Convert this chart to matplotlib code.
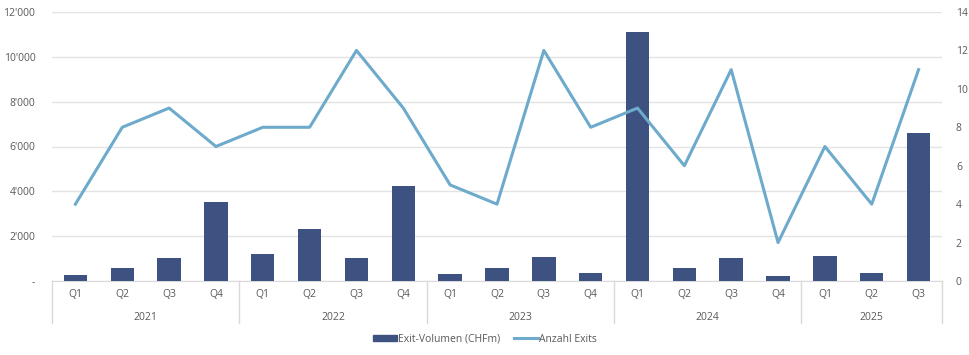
import matplotlib
matplotlib.use("Agg")
import matplotlib.pyplot as plt
from matplotlib.ticker import FuncFormatter, FixedLocator
from matplotlib.lines import Line2D
from matplotlib.patches import Patch

plt.rcParams['font.family'] = ['Open Sans', 'DejaVu Sans']

years = ["2021", "2022", "2023", "2024", "2025"]
quarters = ["Q1", "Q2", "Q3", "Q4", "Q1", "Q2", "Q3", "Q4", "Q1", "Q2", "Q3", "Q4",
            "Q1", "Q2", "Q3", "Q4", "Q1", "Q2", "Q3"]
quarters_per_year = [4, 4, 4, 4, 3]
exit_volume = [280, 580, 1030, 3520, 1200, 2330, 1030, 4240, 300, 580, 1070, 370,
               11100, 580, 1030, 220, 1120, 350, 6600]
exit_count = [4, 8, 9, 7, 8, 8, 12, 9, 5, 4, 12, 8, 9, 6, 11, 2, 7, 4, 11]

bar_color = "#3D5280"
line_color = "#6DAACB"
text_color = "#595959"
grid_color = "#E3E3E3"

W, H = 970, 355
fig = plt.figure(figsize=(W / 100, H / 100), dpi=100)
left, right, top, bottom = 52, 942, 12, 281
ax = fig.add_axes([left / W, 1 - bottom / H, (right - left) / W, (bottom - top) / H])
ax2 = ax.twinx()

n = len(exit_volume)
x = list(range(n))
ax.bar(x, exit_volume, width=0.5, color=bar_color, zorder=3)
ax.set_xlim(-0.5, n - 0.5)
ax.set_ylim(0, 12000)
ax.yaxis.set_major_locator(FixedLocator(range(0, 12001, 2000)))

def fmt(v, pos):
    if v == 0:
        return "-"
    return f"{int(v):,}".replace(",", "'")

ax.yaxis.set_major_formatter(FuncFormatter(fmt))
ax.grid(axis='y', color=grid_color, linewidth=1, zorder=0)
ax.set_axisbelow(True)

ax2.plot(x, exit_count, color=line_color, linewidth=2.2, zorder=4)
ax2.set_ylim(0, 14)
ax2.yaxis.set_major_locator(FixedLocator(range(0, 15, 2)))

for a in (ax, ax2):
    for s in a.spines.values():
        s.set_visible(False)
    a.tick_params(axis='both', length=0, labelsize=7.5, labelcolor=text_color)
ax.spines['bottom'].set_visible(True)
ax.spines['bottom'].set_color("#D9D9D9")
ax.tick_params(axis='y', pad=12)
ax2.tick_params(axis='y', pad=10)

ax.set_xticks(x)
ax.set_xticklabels(quarters)
ax.tick_params(axis='x', pad=6)

# year labels and separators
trans = ax.get_xaxis_transform()
sep_len = (323 - 281) / (bottom - top)
pos = -0.5
bounds = [pos]
for yr, k in zip(years, quarters_per_year):
    center = pos + k / 2
    ax.text(center, -(317 - 281) / (bottom - top), yr, transform=trans,
            ha='center', va='center', fontsize=7.5, color=text_color)
    pos += k
    bounds.append(pos)
for b in bounds:
    ax.plot([b, b], [0, -sep_len], transform=trans, color="#D9D9D9",
            linewidth=1, clip_on=False)

handles = [Patch(color=bar_color, label="Exit-Volumen (CHFm)"),
           Line2D([0], [0], color=line_color, linewidth=2.2, label="Anzahl Exits")]
fig.legend(handles=handles, loc='center', bbox_to_anchor=(0.5, 1 - 339 / H), ncol=2,
           frameon=False, fontsize=7.5, labelcolor=text_color, handlelength=2.3,
           handleheight=0.6, handletextpad=0.15, columnspacing=1.3)

fig.savefig("out.png", dpi=100)
